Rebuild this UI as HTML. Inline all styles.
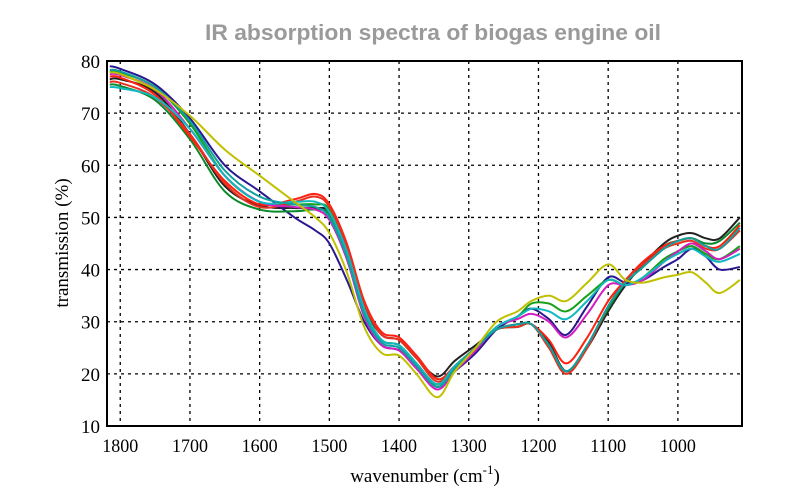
<!DOCTYPE html>
<html><head><meta charset="utf-8">
<style>
html,body{margin:0;padding:0;background:#fff;}
svg{display:block;}
</style></head>
<body>
<svg id="chart" width="800" height="500" viewBox="0 0 800 500" xmlns="http://www.w3.org/2000/svg">
<text x="433" y="40" text-anchor="middle" font-family="Liberation Sans, sans-serif" font-weight="bold" font-size="22" fill="#9a9a9a" textLength="456" lengthAdjust="spacingAndGlyphs">IR absorption spectra of biogas engine oil</text>
<g id="grid"></g>
<g id="series"></g>
<rect x="107" y="61" width="635" height="365" fill="none" stroke="#000" stroke-width="2"/>
<g id="ticks"></g>
<text x="425" y="482" text-anchor="middle" font-family="Liberation Serif, serif" font-size="19" fill="#000">wavenumber (cm<tspan dy="-8" font-size="13">-1</tspan><tspan dy="8">)</tspan></text>
<text transform="translate(68,243) rotate(-90)" text-anchor="middle" font-family="Liberation Serif, serif" font-size="19" fill="#000">transmission (%)</text>
</svg>
<script>
const wavenumbers=[1815,1800,1750,1700,1650,1600,1550,1520,1500,1475,1450,1425,1400,1375,1345,1320,1290,1260,1230,1210,1185,1160,1130,1100,1075,1050,1020,1000,980,960,940,911];
const xTicks=[1800,1700,1600,1500,1400,1300,1200,1100,1000];
const yTicks=[10,20,30,40,50,60,70,80];
const seriesNames=['black','navy','green','dark-green','red','red-2','magenta','cyan','teal','yellow'];
const seriesColors=['#222','#2a1890','#18a018','#0a8a2a','#ff2010','#e83020','#d020c0','#10b8c0','#10a0a0','#c0c000'];
const sBlack=[76.5,76.5,74,66,56,52.3,51.8,51.8,51,44,33,27.5,26.5,23,19.5,22.5,25.5,28.5,29.5,29.5,26,20.5,25,32,37,41,45,46.5,47,46,46,50];
const sNavy=[79,78.5,75.5,69,60,55,50,47.5,45,38,30,25.5,24.5,21.5,17.5,20.5,24,28.5,31,32.5,30.5,27.5,33,38.5,37.5,38,40.5,42,44,42.5,40,40.5];
const sGreen=[78,77.8,75,68,58,53,52.5,52.5,51.5,43,32,26.5,25.5,22,17.5,21.5,25,29,31,33.5,33.5,32,35,38,37,38.5,42,43.5,44.5,43,42,44.5];
const sDarkGreen=[75.5,75.2,72.5,65,55,51.5,51.2,51.5,50.5,43,32.5,26.5,25.5,22,18,21.5,25,28.5,29,29.5,25.5,20.5,25.5,32.5,37.5,40.5,44.5,45.5,46,45,45.5,49];
const sRed=[77,76.8,73.5,65.5,57,52.5,53.5,54.5,52.5,45,34,28,27,23.5,19,21.5,25,28.5,29.5,29.5,26.5,22,27,34,38,41.5,44.5,45.5,46,44.5,44.5,48.5];
const sRed2=[76,75.8,73,66,56.5,52,53,54,52,44.5,33.5,27.5,26.5,23,18.5,21.5,25,28.5,29,29.5,25,20,25,33,38,41,44,45,45.5,44,44,47.5];
const sMagenta=[77.5,77.3,74.5,67,58,53,52,51.5,49.5,42,31,25.5,24.5,21,17,20.5,24.5,29,30.5,31.5,30,27,31.5,37,37,38,41.5,43.5,45,43.5,42,44];
const sCyan=[75,74.8,73,67,58,53,53,53,51,43.5,32.5,26.5,25.5,22,18,21.5,25,29,31,32.5,32,30.5,34,38,37,38.5,41.5,43,44,42.5,41.5,43];
const sTeal=[78.3,78,75,68.5,59,54,52.5,52,50,42.5,31.5,26,25,21.5,17.5,21,25,28.5,29.5,29.5,25.5,20.5,25.5,33,37.5,40.5,44,45.5,46,44.5,44,48];
const sYellow=[77.8,77.5,74.5,69.5,63,58,53,50,47,39.5,29,24,23.5,20,15.5,20.5,25,30,32,34,35,34,37.5,41,38,37.5,38.5,39,39.5,37.5,35.5,38];
const allSeries=[sBlack,sNavy,sGreen,sDarkGreen,sRed,sRed2,sMagenta,sCyan,sTeal,sYellow];

const L=107,R=742,T=61,B=426;
const WMAX=1819,WMIN=908,YMIN=10,YMAX=80;
function xs(w){return L+(WMAX-w)/(WMAX-WMIN)*(R-L);}
function ys(v){return B-(v-YMIN)/(YMAX-YMIN)*(B-T);}
const NS='http://www.w3.org/2000/svg';
const grid=document.getElementById('grid'),ticks=document.getElementById('ticks'),sg=document.getElementById('series');
function mk(tag,attrs,parent){const e=document.createElementNS(NS,tag);for(const k in attrs)e.setAttribute(k,attrs[k]);parent.appendChild(e);return e;}
xTicks.forEach(w=>{
  const x=xs(w);
  const g=mk('line',{x1:x,x2:x,y1:T,y2:B,stroke:'#000','stroke-width':1.3,'stroke-dasharray':'3,4'},grid);
  
  
  const t=mk('text',{x:x,y:452,'text-anchor':'middle','font-family':'Liberation Serif, serif','font-size':19,fill:'#000',textLength:36,lengthAdjust:'spacingAndGlyphs'},ticks);
  t.textContent=w;
  
  
});
yTicks.forEach(v=>{
  const y=ys(v);
  if(v>YMIN&&v<YMAX){const g=mk('line',{x1:L,x2:R,y1:y,y2:y,stroke:'#000','stroke-width':1.3,'stroke-dasharray':'3,4'},grid);
  
  }
  const t=mk('text',{x:100,y:y+7,'text-anchor':'end','font-family':'Liberation Serif, serif','font-size':19,fill:'#000'},ticks);
  t.textContent=v;
  
  
});
function pathFor(vals){
  const p=wavenumbers.map((w,i)=>[xs(w),ys(vals[i])]);
  let d='M'+p[0][0].toFixed(1)+','+p[0][1].toFixed(1);
  for(let i=0;i<p.length-1;i++){
    const p0=p[i-1]||p[i],p1=p[i],p2=p[i+1],p3=p[i+2]||p[i+1];
    const c1=[p1[0]+(p2[0]-p0[0])/6,p1[1]+(p2[1]-p0[1])/6];
    const c2=[p2[0]-(p3[0]-p1[0])/6,p2[1]-(p3[1]-p1[1])/6];
    d+='C'+c1[0].toFixed(1)+','+c1[1].toFixed(1)+' '+c2[0].toFixed(1)+','+c2[1].toFixed(1)+' '+p2[0].toFixed(1)+','+p2[1].toFixed(1);
  }
  return d;
}
const clip=mk('clipPath',{id:'pc'},document.getElementById('chart'));
mk('rect',{x:L,y:T,width:R-L,height:B-T},clip);
allSeries.forEach((vals,i)=>{
  const el=mk('path',{d:pathFor(vals),fill:'none',stroke:seriesColors[i],'stroke-width':2,'clip-path':'url(#pc)'},sg);
  
  
});
</script>
</body></html>
